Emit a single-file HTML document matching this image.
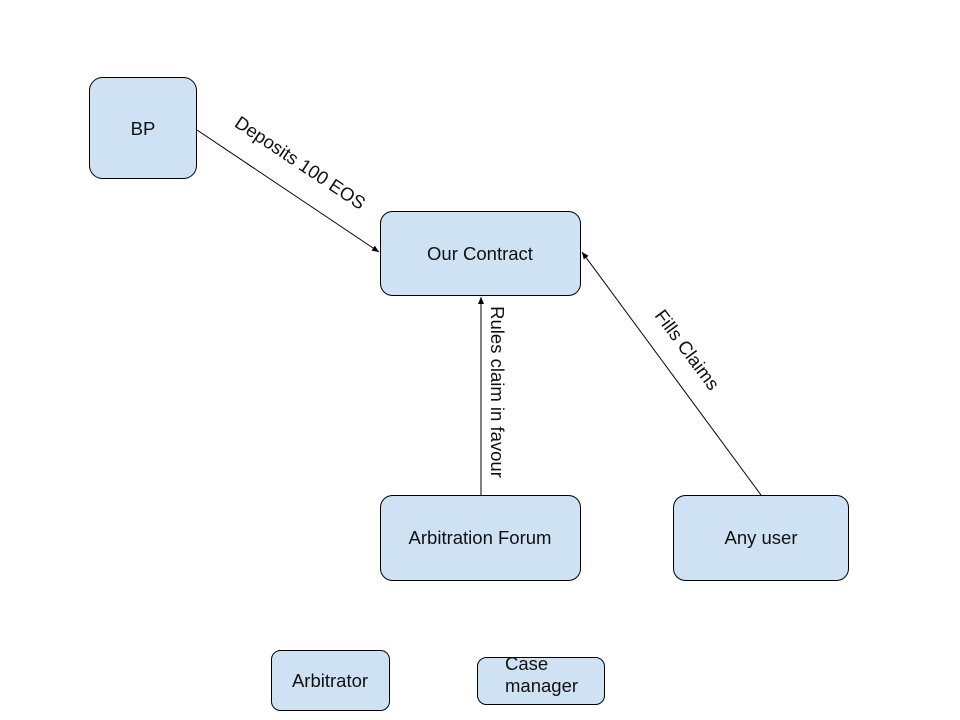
<!DOCTYPE html>
<html><head><meta charset="utf-8"><style>
html,body{margin:0;padding:0;background:#fff;width:960px;height:720px;overflow:hidden}
svg{display:block}
text{font-family:"Liberation Sans",Arial,sans-serif;font-size:18.5px;fill:#111}
</style></head><body>
<svg width="960" height="720" viewBox="0 0 960 720" xmlns="http://www.w3.org/2000/svg">
<defs>
<marker id="a" markerWidth="8" markerHeight="8" refX="7" refY="3" orient="auto" markerUnits="userSpaceOnUse">
<path d="M0,0 L7,3 L0,6 Z" fill="#000"/>
</marker>
</defs>
<g fill="#cfe2f3" stroke="#000" stroke-width="1">
<rect x="89.5" y="77.5" width="107" height="101" rx="13"/>
<rect x="380.5" y="211.5" width="200" height="84" rx="12"/>
<rect x="380.5" y="495.5" width="200" height="85" rx="12"/>
<rect x="673.5" y="495.5" width="175" height="85" rx="12"/>
<rect x="271.5" y="650.5" width="118" height="60" rx="9"/>
<rect x="477.5" y="657.5" width="127" height="47" rx="9"/>
</g>
<g stroke="#000" stroke-width="1" fill="none">
<line x1="197" y1="130" x2="379" y2="252" marker-end="url(#a)"/>
<line x1="481" y1="495" x2="481" y2="297" marker-end="url(#a)"/>
<line x1="761" y1="495" x2="582" y2="252" marker-end="url(#a)"/>
</g>
<g text-anchor="middle">
<text x="143" y="135">BP</text>
<text x="480" y="260">Our Contract</text>
<text x="480" y="544">Arbitration Forum</text>
<text x="761" y="544">Any user</text>
<text x="330" y="687">Arbitrator</text>
<text transform="translate(300,163) rotate(33.7)" dy="6">Deposits 100 EOS</text>
<text transform="translate(497,392) rotate(90)" dy="6">Rules claim in favour</text>
<text transform="translate(687,350) rotate(53.5)" dy="6">Fills Claims</text>
</g>
<text x="505" y="670">Case</text>
<text x="505" y="692">manager</text>
</svg>
</body></html>
